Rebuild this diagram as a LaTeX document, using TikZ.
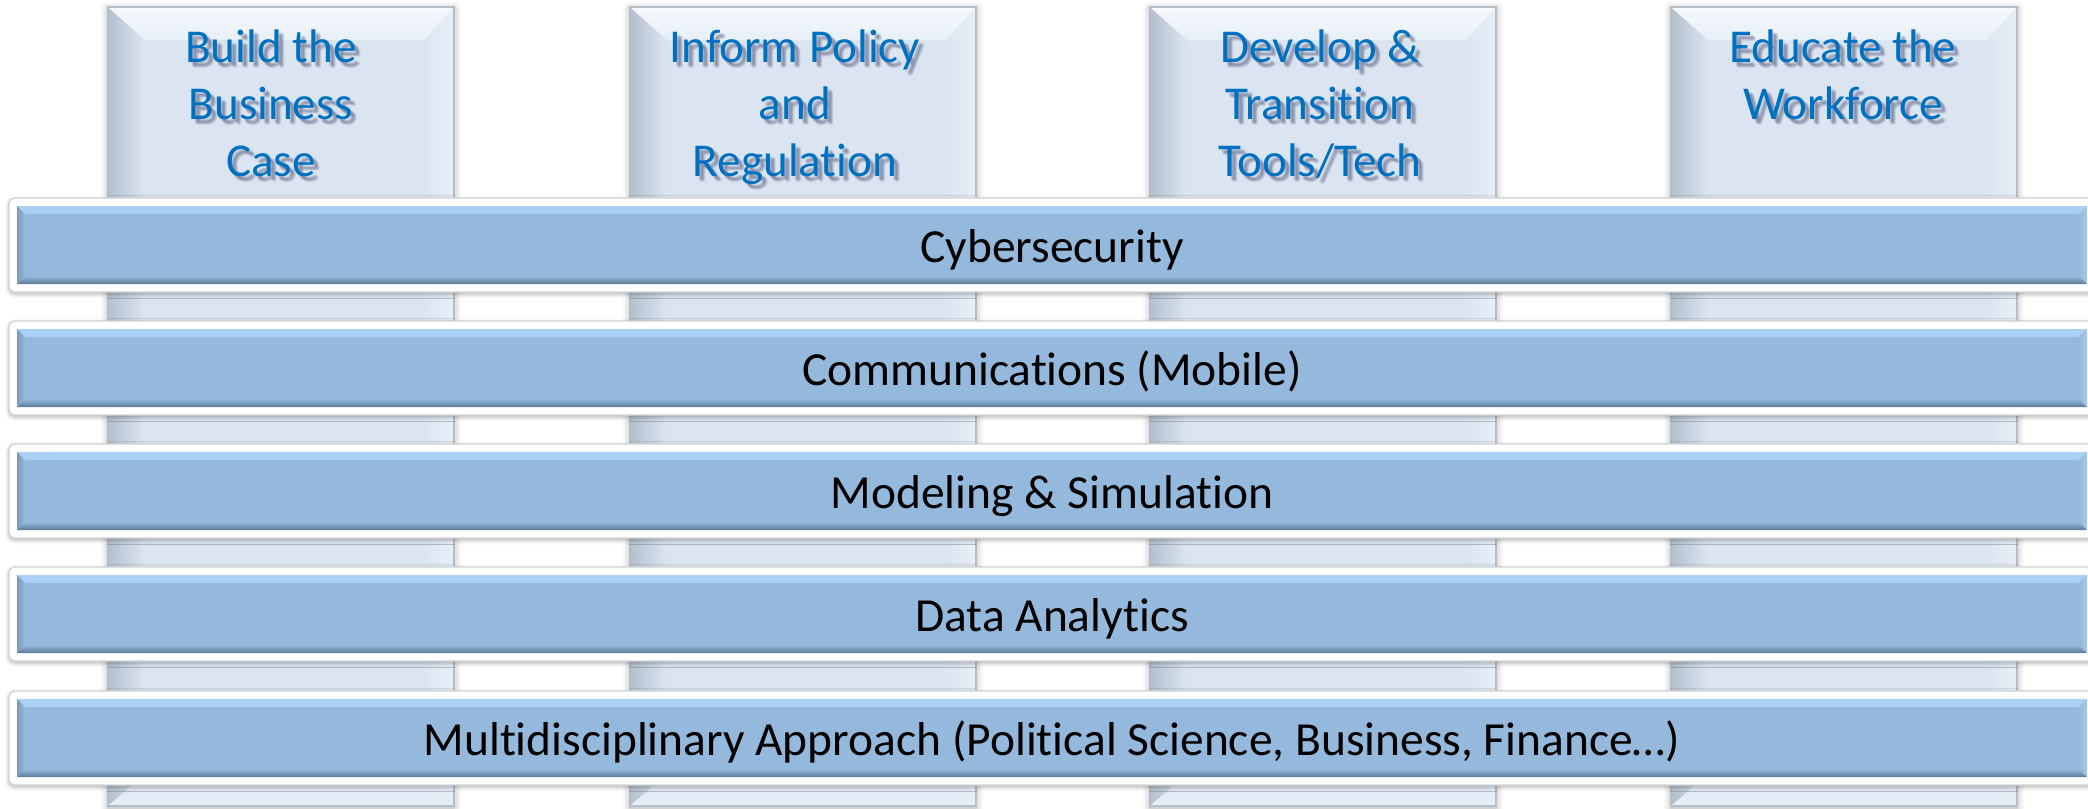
\documentclass[tikz,border=0pt]{standalone}
\usepackage{fontspec}
\setmainfont{Carlito}[Ligatures=NoCommon]
\usetikzlibrary{calc, positioning, shadows.blur}

\definecolor{pillarfill}{HTML}{DBE5F1}
\definecolor{pillardark}{HTML}{B3C0CE}
\definecolor{pillarlight}{HTML}{E7EFF8}
\definecolor{pillartop}{HTML}{F6F9FD}
\definecolor{pillarline}{HTML}{B5BDC7}
\definecolor{titleblue}{HTML}{0070C0}
\definecolor{barfill}{HTML}{95B9DC}
\definecolor{bartop}{HTML}{AAD0F5}
\definecolor{barbottom}{HTML}{5C7895}
\definecolor{barleft}{HTML}{7B9ABA}
\definecolor{barright}{HTML}{A6C8EA}
\definecolor{frameline}{HTML}{D2D2D2}

\tikzset{
  pillartitle/.style={text=titleblue, font=\fontsize{13.4}{16.1}\selectfont,
    align=center, anchor=base, inner sep=0pt},
  titleshadow/.style={pillartitle, text=black!80!blue, opacity=0.07},
  barlabel/.style={text=black, font=\fontsize{13.5}{16}\selectfont, anchor=base, inner sep=0pt},
  barframe/.style={fill=white, draw=frameline, line width=0.4pt, rounded corners=1.5pt,
    blur shadow={shadow xshift=0pt, shadow yshift=-0.6pt, shadow blur radius=1.2pt, shadow opacity=30}},
}

\begin{document}
\begin{tikzpicture}[x=0.01cm, y=-0.01cm]
    \useasboundingbox (0,0) rectangle (2088,808);
    \clip (0,0) rectangle (2088,808);

    % 1. Four pillars with bevelled edges and their titles
    % (\ty is the baseline of the last title line)
    \foreach \px/\tx/\ty/\ttl [count=\i] in {
        108/271/176/{Build the\\Business\\Case},
        630/795/176/{Inform Policy\\and\\Regulation},
        1150/1320/176/{Develop \&\\Transition\\Tools/Tech},
        1671/1843/119/{Educate the\\Workforce}} {
      \pgfmathsetmacro{\qx}{\px+346}
      \pgfmathsetmacro{\lx}{\px+37}
      \pgfmathsetmacro{\rx}{\px+316}
      \fill[pillarfill, blur shadow={shadow xshift=0pt, shadow yshift=-0.5pt,
        shadow blur radius=2pt, shadow opacity=35}] (\px,7) rectangle (\qx,806);
      % left, right, top and bottom bevels
      \shade[left color=pillardark, right color=pillarfill]
        (\px,7) -- (\lx,40) -- (\lx,774) -- (\px,806) -- cycle;
      \shade[left color=pillarfill, right color=pillarlight]
        (\qx,7) -- (\rx,40) -- (\rx,774) -- (\qx,806) -- cycle;
      \shade[top color=pillartop, bottom color=pillarlight]
        (\px,7) -- (\qx,7) -- (\rx,40) -- (\lx,40) -- cycle;
      \shade[top color=pillarfill, bottom color=pillarlight]
        (\px,806) -- (\qx,806) -- (\rx,774) -- (\lx,774) -- cycle;
      \draw[pillarline, line width=0.5pt] (\px,7) rectangle (\qx,806);
      % soft shadow under the title text
      \foreach \dx/\dy [count=\k] in {3/4,5/4,4/3,4/5,5/6,6/5}
        \node[titleshadow] (ts\i-\k) at (\tx+\dx,\ty+\dy) {\ttl};
      \node[pillartitle] (t\i) at (\tx,\ty) {\ttl};
    }

    % 2. Five cross bars, each in a white rounded frame
    \foreach \by/\txt [count=\j] in {
        206/Cybersecurity,
        329/Communications (Mobile),
        452/Modeling \& Simulation,
        575/Data Analytics,
        699/{Multidisciplinary Approach (Political Science, Business, Finance…)}} {
      \path[barframe] (9,\by-8) rectangle (2120,\by+86);
      \fill[barfill] (17,\by) rectangle (2087,\by+78);
      % bevels of the bar
      \fill[bartop] (17,\by) -- (2087,\by) -- (2079,\by+8) -- (25,\by+8) -- cycle;
      \shade[top color=barfill, bottom color=barbottom]
        (17,\by+78) -- (2087,\by+78) -- (2079,\by+70) -- (25,\by+70) -- cycle;
      \shade[left color=barleft, right color=barfill]
        (17,\by) -- (25,\by+8) -- (25,\by+70) -- (17,\by+78) -- cycle;
      \shade[left color=barfill, right color=barright]
        (2087,\by) -- (2079,\by+8) -- (2079,\by+70) -- (2087,\by+78) -- cycle;
      \node[barlabel] (b\j) at (1052,\by+56) {\txt};
    }

\end{tikzpicture}
\end{document}
